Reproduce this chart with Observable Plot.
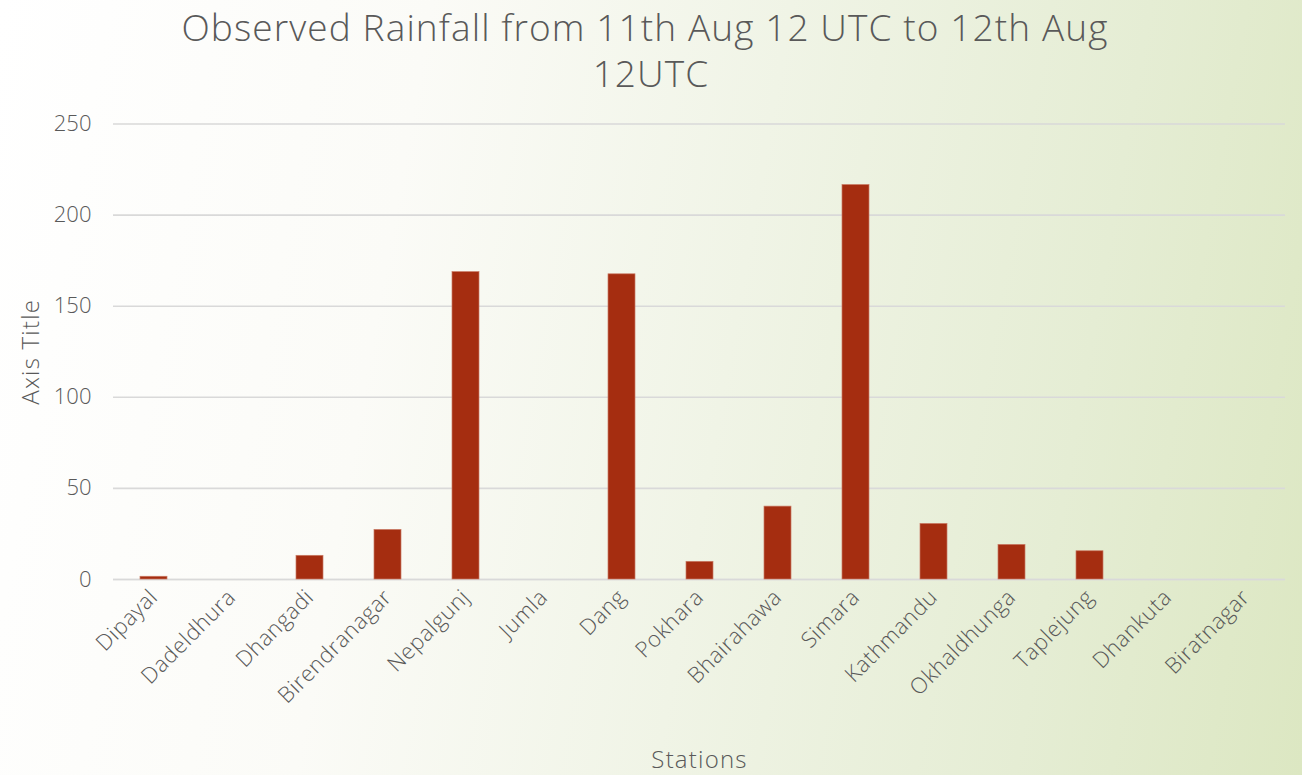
<!DOCTYPE html>
<html>
<head>
<meta charset="utf-8">
<script src="https://cdn.jsdelivr.net/npm/d3@7"></script>
<script src="https://cdn.jsdelivr.net/npm/@observablehq/plot@0.6"></script>
<style>
  html, body { margin: 0; padding: 0; }
  #wrap {
    position: relative; width: 1302px; height: 775px; overflow: hidden;
    background: linear-gradient(100deg, #ffffff 0%, #fbfbf7 30%, #f0f4e6 55%, #e5edd4 80%, #dce7c2 100%);
    font-family: "Open Sans", sans-serif;
  }
  .title {
    position: absolute; left: 0; width: 1290px; text-align: center; height: 44px;
    font-size: 37px; font-weight: 300; color: #595959; line-height: 44px; letter-spacing: 1.1px;
    white-space: nowrap;
  }
  #t1 { top: 5px; }
  #t2 { top: 51px; left: 6px; }
  #chart { position: absolute; left: 0; top: 100px; }
  #chart g[aria-label="x-axis label"] text, #chart g[aria-label="y-axis label"] text {
    font-size: 24px; letter-spacing: 1.2px; font-weight: 300;
  }
</style>
</head>
<body>
<div id="wrap">
  <div class="title" id="t1">Observed Rainfall from 11th Aug 12 UTC to 12th Aug</div>
  <div class="title" id="t2">12UTC</div>
  <div id="chart"></div>
</div>
<script>
const stations = ["Dipayal","Dadeldhura","Dhangadi","Birendranagar","Nepalgunj","Jumla","Dang","Pokhara","Bhairahawa","Simara","Kathmandu","Okhaldhunga","Taplejung","Dhankuta","Biratnagar"];
const rainfall = [1.5, 0, 13, 27.2, 168.7, 0, 167.5, 9.7, 40, 216.5, 30.5, 19, 15.5, 0, 0];
const yTicks = [0, 50, 100, 150, 200, 250];

const data = stations.map((s, i) => ({station: s, value: rainfall[i]}));

const chart = Plot.plot({
  width: 1302,
  height: 675,
  marginLeft: 113,
  marginRight: 17,
  marginTop: 23.5,
  marginBottom: 196,
  style: {background: "transparent", fontFamily: "Open Sans, sans-serif", fontSize: "22px", color: "#595959"},
  x: {domain: stations, paddingInner: 0.66, paddingOuter: 0.33},
  y: {domain: [0, 250]},
  marks: [
    Plot.gridY(yTicks, {stroke: "#d9d9d9", strokeOpacity: 1, strokeWidth: 1.6}),
    Plot.ruleY([0], {stroke: "#d9d9d9", strokeWidth: 1.6}),
    Plot.barY(data, {x: "station", y: "value", fill: "#a52d10", stroke: "#c97a64", strokeWidth: 0.7}),
    Plot.axisY(yTicks, {tickSize: 0, tickPadding: 22, fontSize: 22, fill: "#595959", fontWeight: 300,
      label: "Axis Title", labelAnchor: "center", labelArrow: "none", labelOffset: 92}),
    Plot.axisX({tickSize: 0, tickPadding: 14, tickRotate: -45, fontSize: 22, fill: "#595959", fontWeight: 300,
      label: "Stations", labelAnchor: "center", labelArrow: "none", labelOffset: 188})
  ]
});
document.getElementById("chart").appendChild(chart);
d3.select(chart).selectAll('g[aria-label="x-axis tick label"] text').style("letter-spacing", "0.6px");
</script>
</body>
</html>
